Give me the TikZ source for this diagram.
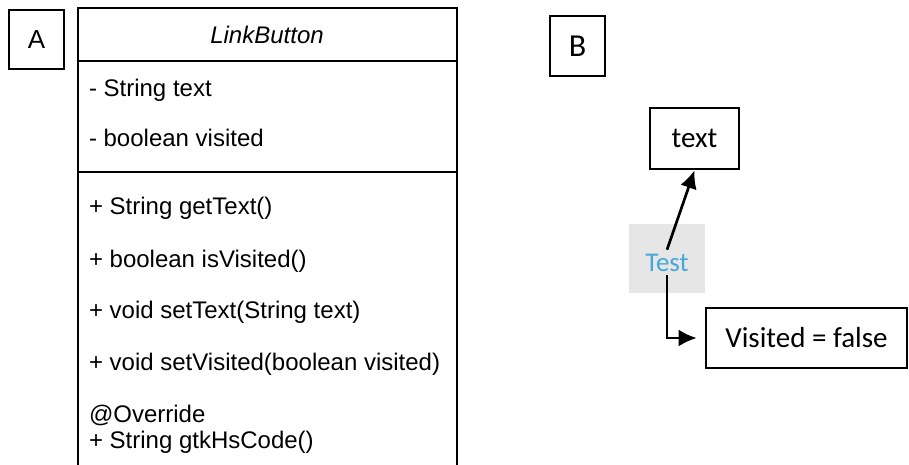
\documentclass[tikz,border=0pt]{standalone}
\usepackage{fontspec}
\setmainfont{Liberation Sans}
\newfontfamily\calibri{Carlito}
\usepackage{tikz}
\usetikzlibrary{arrows.meta,positioning,calc}
\definecolor{testblue}{RGB}{70,168,216}
\definecolor{testgray}{RGB}{230,230,230}

\begin{document}
\begin{tikzpicture}[x=0.5pt,y=-0.5pt,line width=1pt,
  lbox/.style={draw,line width=1pt,inner sep=0pt},
  arial/.style={font=\fontsize{12}{14}\selectfont},
  cal/.style={font=\calibri\fontsize{14.5}{17}\selectfont},
  member/.style={anchor=base west,inner sep=0pt,arial},
  link/.style={line width=1.35pt,-{Latex[length=9pt,width=8.5pt]}}]
\useasboundingbox (0,0) rectangle (909,465);

% part A: class box
\node (A) at (36.5,39.5) [lbox,minimum width=27.5pt,minimum height=29.5pt,font=\fontsize{13}{15}\selectfont] {A};
\draw (78,465) -- (78,8) -- (457,8) -- (457,465);
\draw (78,61) -- (457,61);
\draw (78,172) -- (457,172);
\node (cls) at (267,44) [anchor=base,inner sep=0pt,arial,font=\fontsize{12}{14}\selectfont\itshape] {LinkButton};

\node (f1) at (88,97) [member] {- String text};
\node (f2) at (88,147) [member] {- boolean visited};

\node (m1) at (88,214) [member] {+ String getText()};
\node (m2) at (88,267) [member] {+ boolean isVisited()};
\node (m3) at (88,318) [member] {+ void setText(String text)};
\node (m4) at (88,370) [member] {+ void setVisited(boolean visited)};
\node (m5) at (88,422) [member] {@Override};
\node (m6) at (88,448) [member] {+ String gtkHsCode()};

% part B: screen
\node (B) at (577.5,46) [lbox,line width=1.2pt,minimum width=27.5pt,minimum height=30pt,font=\calibri\fontsize{16}{19}\selectfont] {B};
\node (txt) at (694.5,138.5) [lbox,line width=1.3pt,minimum width=44.5pt,minimum height=30.5pt,cal] {text};
\node (vis) at (806.5,338) [lbox,line width=1.3pt,minimum width=100.5pt,minimum height=30pt,cal] {Visited = false};

\node (testbg) at (667,258.5) [fill=testgray,minimum width=38pt,minimum height=34.5pt] {};
\node (test) at (667,262.5) [inner sep=1.5pt,text=testblue,font=\calibri\fontsize{13.5}{16}\selectfont] {Test};

\draw[link] (test.north) -- (txt.south);
\draw[link,shorten >=4pt] (test.south) |- (vis.west);

\end{tikzpicture}
\end{document}
